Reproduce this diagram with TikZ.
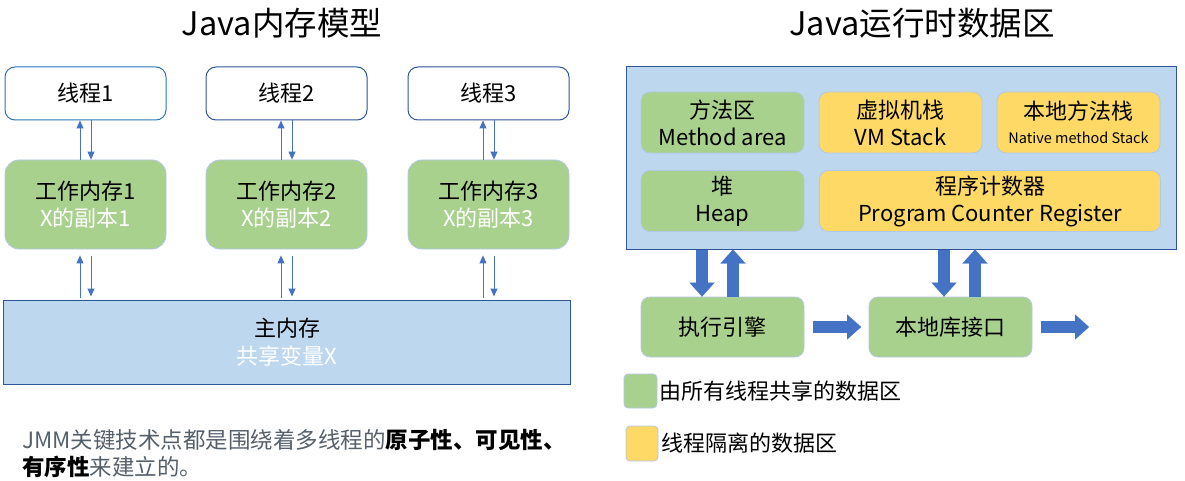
\documentclass[tikz,border=0pt]{standalone}
\usepackage{fontspec}
\setmainfont{Noto Sans CJK SC}
\usetikzlibrary{arrows.meta,calc}
\definecolor{gfill}{HTML}{A9D18E}
\definecolor{yfill}{HTML}{FFD966}
\definecolor{bfill}{HTML}{BDD7EE}
\definecolor{dblue}{HTML}{2F5597}
\definecolor{mblue}{HTML}{2E75B6}
\definecolor{arrowc}{HTML}{4472C4}
\definecolor{lborder}{HTML}{B4C7E7}
\definecolor{grtext}{HTML}{56606B}
\newcommand{\fs}[2]{\fontsize{#1}{#2}\selectfont}
\tikzset{
  thread/.style={draw=dblue, fill=white, rounded corners=10pt, line width=1pt,
    minimum width=161pt, minimum height=53pt, inner sep=0pt, font=\fs{22}{27}},
  wm/.style={draw=lborder, fill=gfill, rounded corners=14pt, line width=0.8pt,
    minimum width=161pt, minimum height=89pt, inner sep=0pt, align=center, font=\fs{22}{27}},
  mainbox/.style={draw=dblue, fill=bfill, line width=1pt, minimum width=567pt,
    minimum height=84pt, inner sep=0pt, align=center, font=\fs{22}{28}},
  gbox/.style={draw=lborder, fill=gfill, rounded corners=9pt, line width=0.8pt,
    minimum height=61pt, inner sep=0pt, align=center, font=\fs{22}{27}},
  ybox/.style={gbox, fill=yfill},
  tarrow/.style={draw=arrowc, line width=1pt, -{Triangle[width=7pt,length=8pt]}},
  fat/.style={draw=arrowc, line width=12pt, -{Triangle[width=25pt,length=14pt,line width=0.01pt]}},
  title/.style={font=\fs{32.5}{36}, inner sep=0pt},
  legsq/.style={draw=lborder, line width=0.8pt, rounded corners=4pt, inner sep=0pt},
  legtxt/.style={anchor=west, inner sep=0pt, font=\fs{22}{26}},
}
\begin{document}
\begin{tikzpicture}[x=1pt,y=-1pt]
\useasboundingbox (0,0) rectangle (1185,481);

% ---------- left: Java memory model ----------
\node[title] (lt) at (282,23) {Java内存模型};

\node[thread, draw=mblue] (t1) at (85.5,93.5) {线程1};
\node[thread] (t2) at (286.5,93.5) {线程2};
\node[thread] (t3) at (488.5,93.5) {线程3};

\node[wm] (w1) at (85.5,204.5) {工作内存1\\\textcolor{white}{X的副本1}};
\node[wm] (w2) at (286.5,204.5) {工作内存2\\\textcolor{white}{X的副本2}};
\node[wm] (w3) at (488.5,204.5) {工作内存3\\\textcolor{white}{X的副本3}};

\node[mainbox] (m) at (287,342) {主内存\\\textcolor{white}{共享变量X}};

\foreach \i in {1,2,3} {
  \coordinate (ua\i) at ([xshift=-5.5pt]w\i.north);
  \coordinate (da\i) at ([xshift=5.5pt]w\i.north);
  \coordinate (ub\i) at ([xshift=-5.5pt]w\i.south);
  \coordinate (db\i) at ([xshift=5.5pt]w\i.south);
  \draw[tarrow] (ua\i) -- (ua\i |- t\i.south);
  \draw[tarrow] (da\i |- t\i.south) -- (da\i);
  \draw[tarrow, shorten <=2pt, shorten >=6pt] (ub\i |- m.north) -- (ub\i);
  \draw[tarrow, shorten <=7pt, shorten >=3pt] (db\i) -- (db\i |- m.north);
}

\node[anchor=west, inner sep=0pt, font=\fs{22.5}{27}, text=grtext] (n1) at (22,440)
  {JMM关键技术点都是围绕着多线程的\textcolor{black}{\bfseries 原子性、可见性、}};
\node[anchor=west, inner sep=0pt, font=\fs{22.5}{27}, text=grtext] (n2) at (22,467)
  {\textcolor{black}{\bfseries 有序性}来建立的。};

% ---------- right: runtime data areas ----------
\node[title] (rtt) at (922,23) {Java运行时数据区};

\node[draw=dblue, fill=bfill, line width=1pt, minimum width=550pt, minimum height=182pt, inner sep=0pt] (rt) at (901,158) {};

\node[gbox, minimum width=163pt] (ma) at (722.5,122.5) {方法区\\Method area};
\node[ybox, minimum width=163pt] (vm) at (900.5,122.5) {虚拟机栈\\VM Stack};
\node[ybox, minimum width=163pt] (nm) at (1078.5,122.5) {本地方法栈\\[-3pt]{\fs{14.5}{17}Native method Stack}};
\node[gbox, minimum width=163pt] (hp) at (722.5,201) {堆\\Heap};
\node[ybox, minimum width=341pt] (pc) at (990,201) {程序计数器\\Program Counter Register};

\node[gbox, minimum width=163pt, minimum height=60pt] (ex) at (722.5,327) {执行引擎};
\node[gbox, minimum width=163pt, minimum height=60pt] (nl) at (950.5,327) {本地库接口};

\coordinate (d1) at (702,0);
\coordinate (u1) at (733,0);
\coordinate (d2) at (944,0);
\coordinate (u2) at (975,0);
\draw[fat] (d1 |- rt.south) -- (d1 |- ex.north);
\draw[fat] (u1 |- ex.north) -- (u1 |- rt.south);
\draw[fat] (d2 |- rt.south) -- (d2 |- nl.north);
\draw[fat] (u2 |- nl.north) -- (u2 |- rt.south);
\draw[fat, shorten <=9pt, shorten >=7.5pt] (ex.east) -- (nl.west);
\coordinate (out) at (1089,327);
\draw[fat, shorten <=8.5pt] (nl.east) -- (out);

% legend
\node[legsq, fill=gfill, minimum width=33pt, minimum height=34pt] (lg) at (640.5,391) {};
\node[legtxt] (lgt) at (659,391) {由所有线程共享的数据区};
\node[legsq, fill=yfill, minimum width=32pt, minimum height=35pt] (ly) at (642,443.5) {};
\node[legtxt] (lyt) at (661,443) {线程隔离的数据区};
\end{tikzpicture}
\end{document}
